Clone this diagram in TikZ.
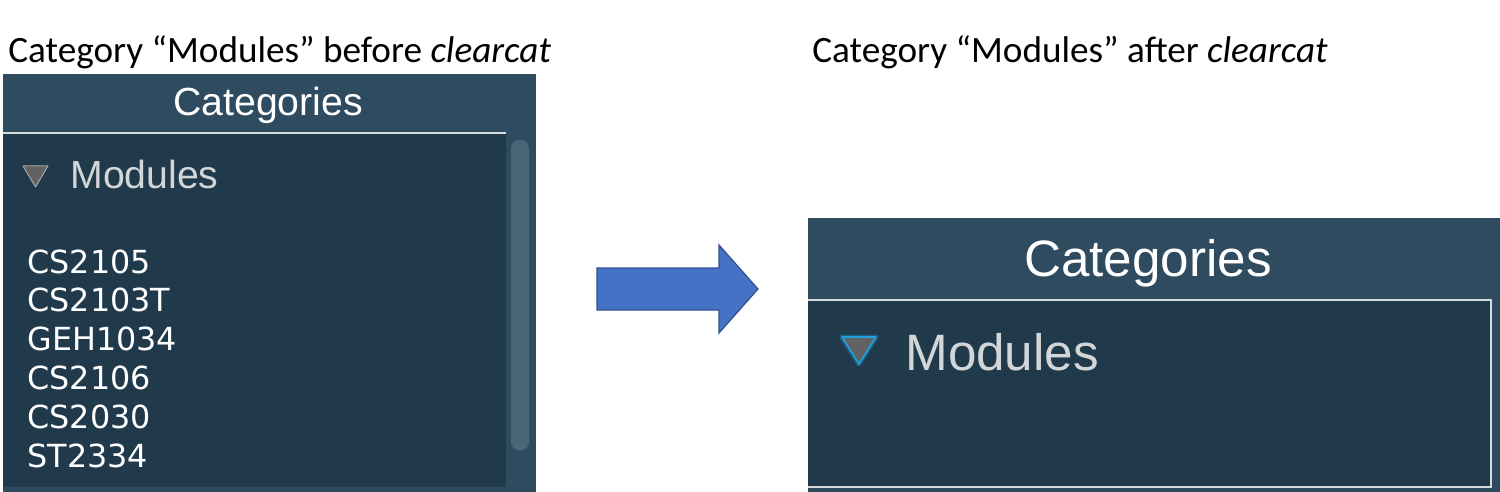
\documentclass[tikz,border=0pt]{standalone}
\usepackage{fontspec}
\setmainfont{Carlito}
\newfontfamily\uifont{Liberation Sans}
\newfontfamily\listfont{DejaVu Sans}
\definecolor{headblue}{RGB}{46,75,96}
\definecolor{listblue}{RGB}{32,57,75}
\definecolor{scrollblue}{RGB}{75,101,121}
\definecolor{rulegray}{RGB}{214,219,222}
\definecolor{modgray}{RGB}{211,214,216}
\definecolor{arrowblue}{RGB}{68,114,196}
\definecolor{arrowedge}{RGB}{47,82,143}
\definecolor{trigray}{RGB}{98,98,98}
\definecolor{glowcyan}{RGB}{30,160,220}

\begin{document}
\begin{tikzpicture}[x=0.5pt, y=-0.5pt,
    captiontext/.style={anchor=base west, inner sep=0pt, text=black,
        font=\fontsize{18.6}{22}\selectfont},
    headtext/.style={anchor=base, inner sep=0pt, text=white},
    modtext/.style={anchor=base west, inner sep=0pt, text=modgray},
    itemtext/.style={anchor=base west, inner sep=0pt, text=white,
        font=\listfont\fontsize{15.9}{19}\selectfont}]
    \useasboundingbox (0,0) rectangle (1500,492);

    %% Captions
    \node[captiontext] (capbefore) at (8,63) {Category “Modules” before \textit{clearcat}};
    \node[captiontext] (capafter) at (812,63) {Category “Modules” after \textit{clearcat}};

    %% Left panel
    \fill[headblue] (3,74) rectangle (536,492);
    \fill[listblue] (3,134) rectangle (506,487);
    \draw[rulegray, line width=1pt] (3,133) -- (506,133);
    \fill[scrollblue, rounded corners=4pt] (511,140) rectangle (529,450);
    \filldraw[fill=trigray, draw=gray!70, line width=0.5pt, line join=round]
        (23,166) -- (48,166) -- (35.5,187) -- cycle;
    \node[headtext, font=\uifont\fontsize{19.6}{23}\selectfont]
        (lefthead) at (268,116) {Categories};
    \node[modtext, font=\uifont\fontsize{19.6}{23}\selectfont]
        (leftmod) at (70,189) {Modules};

    %% Module list
    \node[itemtext] (m0) at (27,273) {CS2105};
    \node[itemtext] (m1) at (27,311.8) {CS2103T};
    \node[itemtext] (m2) at (27,350.6) {GEH1034};
    \node[itemtext] (m3) at (27,389.4) {CS2106};
    \node[itemtext] (m4) at (27,428.2) {CS2030};
    \node[itemtext] (m5) at (27,467) {ST2334};

    %% Arrow
    \filldraw[fill=arrowblue, draw=arrowedge, line width=0.6pt]
        (597,268) -- (719,268) -- (719,245) -- (758,289)
        -- (719,333) -- (719,310) -- (597,310) -- cycle;

    %% Right panel
    \fill[headblue] (808,218) rectangle (1500,492);
    \fill[listblue] (808,300) rectangle (1491,487);
    \draw[rulegray, line width=1pt] (808,300) -- (1491,300) -- (1491,487) -- (808,487);
    \draw[glowcyan, opacity=0.35, line width=2.5pt, line join=round]
        (842,337) -- (876,337) -- (859,364) -- cycle;
    \filldraw[fill=trigray, draw=glowcyan, line width=0.8pt, line join=round]
        (842,337) -- (876,337) -- (859,364) -- cycle;
    \node[headtext, font=\uifont\fontsize{25.6}{30}\selectfont]
        (righthead) at (1148,276) {Categories};
    \node[modtext, font=\uifont\fontsize{25.6}{30}\selectfont]
        (rightmod) at (905,370) {Modules};
\end{tikzpicture}
\end{document}
